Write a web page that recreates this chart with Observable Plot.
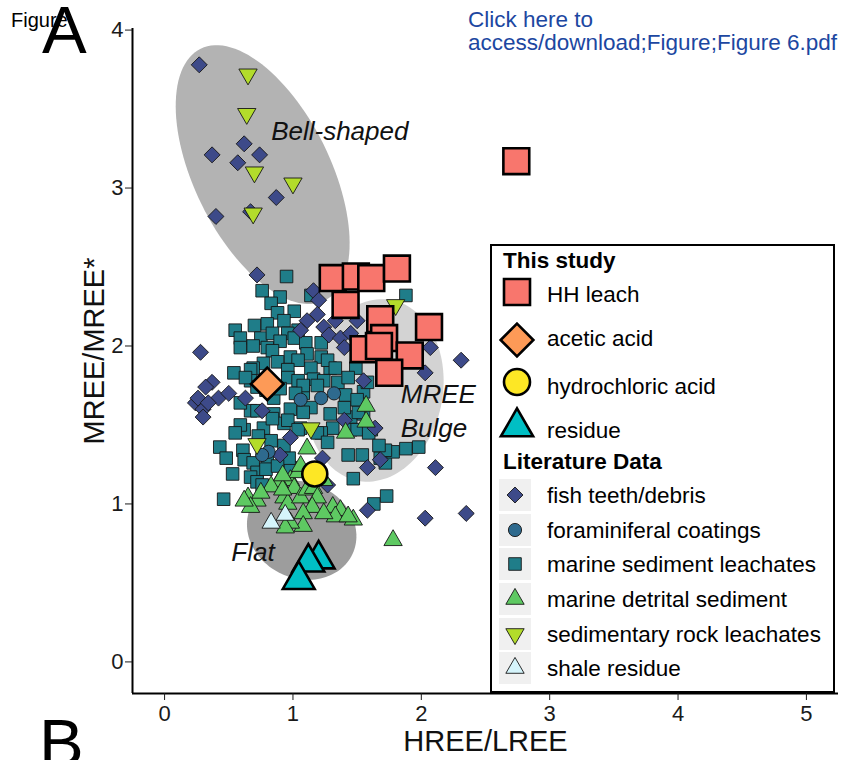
<!DOCTYPE html>
<html>
<head>
<meta charset="utf-8">
<script src="https://cdn.jsdelivr.net/npm/d3@7"></script>
<script src="https://cdn.jsdelivr.net/npm/@observablehq/plot@0.6"></script>
<style>
  body { margin: 0; background: #fff; }
  #wrap { position: relative; width: 845px; height: 760px; overflow: hidden;
          font-family: "Liberation Sans", Arial, Helvetica, sans-serif; }
  #wrap > svg { position: absolute; left: 0; top: 0; }
</style>
</head>
<body>
<div id="wrap"></div>
<script>
// ---- axes ----
const xDomain = [-0.25, 5.25];
const yDomain = [-0.2, 4.01];
const xTicks = [0, 1, 2, 3, 4, 5];
const yTicks = [0, 1, 2, 3, 4];
const xTitle = "HREE/LREE";
const yTitle = "MREE/MREE*";

// ---- this study: [HREE/LREE, MREE/MREE*] ----
const hhLeach = [[2.74,3.17],[1.31,2.43],[1.49,2.44],[1.61,2.43],[1.81,2.49],[1.41,2.26],[1.68,2.17],
  [2.06,2.12],[1.71,2.05],[1.55,1.98],[1.67,2.00],[1.91,1.94],[1.75,1.83]];
const aceticAcid = [[0.80,1.76]];
const hydrochloricAcid = [[1.17,1.19]];
const residue = [[1.20,0.65],[1.12,0.63],[1.045,0.52]];

// ---- literature data ----
const fishTeeth = [[0.27,3.78],[0.37,3.21],[0.62,3.28],[0.57,3.16],[0.74,3.21],[0.87,2.94],[0.40,2.82],[0.67,2.85],
  [0.72,2.45],[1.16,2.35],[1.11,2.16],[1.24,2.12],[1.28,2.07],[1.37,2.05],[1.45,2.08],[1.50,2.16],[1.40,1.99],
  [1.20,2.29],[1.06,2.10],[1.33,2.16],[1.19,2.20],
  [0.28,1.96],[1.55,1.78],[2.03,1.83],[2.07,1.99],[2.31,1.91],
  [0.37,1.77],[0.32,1.74],[0.42,1.67],[0.50,1.70],[0.24,1.64],[0.30,1.60],[0.30,1.55],[0.63,1.67],[0.26,1.67],[0.34,1.64],
  [0.98,1.42],[1.23,1.29],[1.27,1.12],[1.64,1.48],[1.58,1.23],[2.11,1.23],[1.58,0.96],[2.03,0.91],[2.35,0.94],
  [1.40,1.53],[1.68,1.28],[0.76,1.59],[0.90,1.31]];
const foramCoatings = [[1.22,1.67],[1.32,1.70],[0.81,1.33],[0.76,1.31],[1.06,1.66]];
const sedimentLeachates = [[0.95,2.44],[0.76,2.35],[0.90,2.31],[1.14,2.32],[0.83,2.27],[0.88,2.21],[1.01,2.22],
  [0.70,2.13],[0.80,2.14],[0.93,2.16],[1.04,2.10],[0.55,2.10],[0.59,2.05],[0.75,2.05],[0.84,2.08],[0.96,2.08],
  [0.59,1.99],[0.69,2.00],[0.80,1.99],[0.90,2.03],[1.01,2.05],[1.10,2.02],[1.22,2.02],[0.84,1.97],[0.98,1.93],
  [1.11,1.95],[1.22,1.93],[0.77,1.89],[0.88,1.90],[1.04,1.91],[0.54,1.83],[0.69,1.86],[0.96,1.85],[1.14,1.86],
  [1.29,1.86],[1.16,1.79],[1.27,1.91],[1.88,2.32],[0.67,1.85],[0.67,1.78],[0.72,1.74],[1.33,1.86],[1.49,1.86],
  [1.55,1.71],[1.08,1.70],[1.14,1.61],[0.98,1.60],[0.85,1.57],[0.67,1.59],[0.59,1.64],[0.96,1.80],[1.04,1.78],
  [1.24,1.78],[1.35,1.77],[1.43,1.80],[1.29,1.57],[1.45,1.55],[1.55,1.57],[1.61,1.47],[1.45,1.47],[1.31,1.48],
  [1.22,1.45],[1.06,1.48],[0.93,1.51],[0.77,1.48],[0.62,1.47],[0.63,1.80],[1.08,1.75],[1.19,1.75],[1.02,1.70],
  [0.85,1.67],[0.72,1.59],[0.59,1.50],[0.55,1.45],[0.73,1.43],[0.84,1.54],[0.96,1.53],[1.08,1.58],[1.04,1.47],
  [1.19,1.45],[1.27,1.39],[0.43,1.36],[0.48,1.29],[0.61,1.34],[0.62,1.28],[0.53,1.19],[0.69,1.26],[0.72,1.20],
  [0.80,1.28],[0.79,1.22],[0.67,1.17],[0.72,1.14],[0.98,1.23],[0.97,1.29],[0.46,1.03],[0.76,1.12],[0.88,1.24],
  [1.40,1.61],[1.51,1.58],[1.50,1.47],[1.43,1.31],[1.54,1.31],[1.68,1.29],[1.72,1.26],[1.78,1.33],[1.88,1.35],
  [1.98,1.36],[1.72,1.34],[1.47,1.16],[1.63,1.00],[1.73,1.05],[1.58,1.77],[1.41,1.69],[1.50,1.66],[1.59,1.45],
  [1.67,1.37],[0.79,1.72],[0.90,1.73],[0.83,1.40],[0.93,1.37]];
const detritalSediment = [[1.57,1.62],[1.57,1.52],[1.41,1.45],[1.11,1.35],[0.98,1.15],[1.01,1.10],[0.89,1.14],
  [0.83,1.11],[0.65,1.04],[0.72,1.02],[0.75,1.07],[0.67,0.98],[0.93,1.04],[0.96,1.00],[1.06,1.04],[1.11,1.09],
  [1.16,1.10],[1.19,1.04],[1.15,0.98],[1.08,0.94],[1.08,0.86],[0.98,0.88],[0.94,0.85],[1.31,0.98],[1.37,0.96],
  [1.33,0.92],[1.47,0.90],[1.43,0.92],[1.24,0.94],[0.92,1.09],[1.24,1.15],[1.04,1.20],[0.92,1.18],[1.78,0.77],
  [0.62,1.02],[1.06,1.24]];
const sedRockLeachates = [[0.65,3.72],[0.64,3.47],[0.70,3.10],[1.00,3.03],[0.69,2.84],[1.80,2.26],[1.14,1.48],[0.72,1.38]];
const shaleResidue = [[0.83,0.88],[0.94,0.93]];

// ---- shaded pattern regions (ellipses in data units: centre, two semi-axis vectors) ----
const regionCenters = [[0.764,3.085],[1.637,1.719],[1.068,0.833]];
const regionAxisA   = [[0.483,-0.797],[0.125,0.573],[0.158,0.275]];
const regionAxisB   = [[0.475,0.190],[0.522,-0.075],[0.396,-0.150]];
const regionFills   = ["#b3b3b3", "#d3d3d3", "#9d9d9d"];
const regionText = ["Bell-shaped", "MREE", "Bulge", "Flat"];
const regionTextX = [0.83, 1.84, 1.84, 0.52];
const regionTextY = [3.357, 1.693, 1.478, 0.694];

const colors = {
  fish: "#3d4a89", forams: "#2e6a8e", sediment: "#1f7d89", detrital: "#5ec962",
  sedRock: "#b3dc2b", shale: "#d5f4fb", hh: "#f8766d", acetic: "#fd9a57",
  hcl: "#fde725", residue: "#00bfc4"
};

// downward-pointing triangle, same geometry as d3.symbolTriangle flipped
const triangleDown = {
  draw(context, size) {
    const y = -Math.sqrt(size / (Math.sqrt(3) * 3));
    context.moveTo(0, -y * 2);
    context.lineTo(-Math.sqrt(3) * y, y);
    context.lineTo(Math.sqrt(3) * y, y);
    context.closePath();
  }
};

function outline(i) {
  const [cx, cy] = regionCenters[i], [ax, ay] = regionAxisA[i], [bx, by] = regionAxisB[i];
  return d3.range(0, 121).map(k => {
    const t = 2 * Math.PI * k / 120;
    return {x: cx + ax * Math.cos(t) + bx * Math.sin(t), y: cy + ay * Math.cos(t) + by * Math.sin(t)};
  });
}

const px = d => d[0], py = d => d[1];
const small = (data, symbol, fill, r) =>
  Plot.dot(data, {x: px, y: py, symbol, r, fill, stroke: "#161616", strokeWidth: 0.9});
const big = (data, symbol, fill, r) =>
  Plot.dot(data, {x: px, y: py, symbol, r, fill, stroke: "#000", strokeWidth: 2.6});

const chart = Plot.plot({
  width: 845, height: 760,
  marginLeft: 132, marginRight: 7, marginTop: 28, marginBottom: 67,
  x: {domain: xDomain},
  y: {domain: yDomain},
  style: {fontFamily: '"Liberation Sans", Arial, Helvetica, sans-serif', fontSize: "22px",
          background: "white", color: "#111", overflow: "visible"},
  marks: [
    ...regionFills.map((f, i) => Plot.line(outline(i), {x: "x", y: "y", fill: f, stroke: "none", curve: "linear-closed"})),
    Plot.text(regionText, {x: (d, i) => regionTextX[i], y: (d, i) => regionTextY[i], text: d => d,
      textAnchor: "start", fontStyle: "italic", fontSize: 26, fill: "#111"}),
    small(sedimentLeachates, "square", colors.sediment, 7.1),
    small(fishTeeth, "diamond2", colors.fish, 7.2),
    small(foramCoatings, "circle", colors.forams, 6.6),
    small(detritalSediment, "triangle", colors.detrital, 6.8),
    small(sedRockLeachates, triangleDown, colors.sedRock, 6.8),
    small(shaleResidue, "triangle", colors.shale, 6.8),
    big(hhLeach, "square", colors.hh, 14.6),
    big(aceticAcid, "diamond2", colors.acetic, 14.7),
    big(hydrochloricAcid, "circle", colors.hcl, 12.5),
    big(residue, "triangle", colors.residue, 11.8),
    Plot.ruleY([yDomain[0]], {stroke: "#000", strokeWidth: 2}),
    Plot.ruleX([xDomain[0]], {stroke: "#000", strokeWidth: 2}),
    Plot.axisX({ticks: xTicks, tickFormat: d => String(d), tickSize: 7, tickPadding: 5, fontSize: 22, label: null, color: "#1a1a1a"}),
    Plot.axisY({ticks: yTicks, tickFormat: d => String(d), tickSize: 7, tickPadding: 2, fontSize: 22, label: null, color: "#1a1a1a"}),
    Plot.text([xTitle], {frameAnchor: "bottom", dy: 48, textAnchor: "middle", lineAnchor: "middle", fontSize: 29, fill: "#111"}),
    Plot.text([yTitle], {frameAnchor: "left", dx: -38, dy: -10, rotate: -90, textAnchor: "middle", lineAnchor: "middle", fontSize: 29, fill: "#111"})
  ]
});

const wrap = document.getElementById("wrap");
wrap.appendChild(chart);

// ---- overlay: panel letters, link text and legend ----
const svg = d3.select(wrap).append("svg").attr("width", 845).attr("height", 760)
  .style("font-family", '"Liberation Sans", Arial, Helvetica, sans-serif');

svg.append("text").attr("x", 11).attr("y", 27).attr("font-size", 20).text("Figure");
svg.append("text").attr("x", 42).attr("y", 53).attr("font-size", 67).text("A");
svg.append("text").attr("x", 39).attr("y", 766).attr("font-size", 67).text("B");
const linkLines = ["Click here to", "access/download;Figure;Figure 6.pdf"];
linkLines.forEach((t, i) => svg.append("text").attr("x", 468).attr("y", 27 + i * 23)
  .attr("font-size", 22.5).attr("fill", "#1c47a1").text(t));

const lg = svg.append("g");
lg.append("rect").attr("x", 491).attr("y", 245).attr("width", 343).attr("height", 447)
  .attr("fill", "white").attr("stroke", "#000").attr("stroke-width", 2);

const studyItems = [
  {label: "HH leach", type: d3.symbolSquare, size: 676, fill: colors.hh, cy: 292, base: 302},
  {label: "acetic acid", type: d3.symbolDiamond2, size: 684, fill: colors.acetic, cy: 340, base: 346},
  {label: "hydrochloric acid", type: d3.symbolCircle, size: Math.PI * 13 * 13, fill: colors.hcl, cy: 382, base: 394},
  {label: "residue", type: d3.symbolTriangle, size: 449, fill: colors.residue, cy: 427, base: 438}
];
const litItems = [
  {label: "fish teeth/debris", type: d3.symbolDiamond2, size: Math.PI * 7.2 * 7.2, fill: colors.fish},
  {label: "foraminiferal coatings", type: d3.symbolCircle, size: Math.PI * 6.6 * 6.6, fill: colors.forams},
  {label: "marine sediment leachates", type: d3.symbolSquare, size: Math.PI * 7.1 * 7.1, fill: colors.sediment},
  {label: "marine detrital sediment", type: d3.symbolTriangle, size: Math.PI * 6.8 * 6.8, fill: colors.detrital},
  {label: "sedimentary rock leachates", type: triangleDown, size: Math.PI * 6.8 * 6.8, fill: colors.sedRock},
  {label: "shale residue", type: d3.symbolTriangle, size: Math.PI * 6.8 * 6.8, fill: colors.shale}
];
const keyTops = [479, 514, 548, 583, 618, 652];

lg.append("text").attr("x", 503).attr("y", 268).attr("font-size", 22.5).attr("font-weight", "bold").text("This study");
studyItems.forEach(d => {
  lg.append("path").attr("d", d3.symbol(d.type, d.size)()).attr("transform", `translate(517,${d.cy})`)
    .attr("fill", d.fill).attr("stroke", "#000").attr("stroke-width", 2.6);
  lg.append("text").attr("x", 547).attr("y", d.base).attr("font-size", 22.5).text(d.label);
});
lg.append("text").attr("x", 503).attr("y", 469).attr("font-size", 22.5).attr("font-weight", "bold").text("Literature Data");
litItems.forEach((d, i) => {
  const top = keyTops[i];
  lg.append("rect").attr("x", 499).attr("y", top).attr("width", 32).attr("height", 32).attr("fill", "#f0f0f0");
  lg.append("path").attr("d", d3.symbol(d.type, d.size)()).attr("transform", `translate(515,${top + 16})`)
    .attr("fill", d.fill).attr("stroke", "#161616").attr("stroke-width", 0.9);
  lg.append("text").attr("x", 547).attr("y", top + 24).attr("font-size", 22.5).text(d.label);
});
</script>
</body>
</html>
